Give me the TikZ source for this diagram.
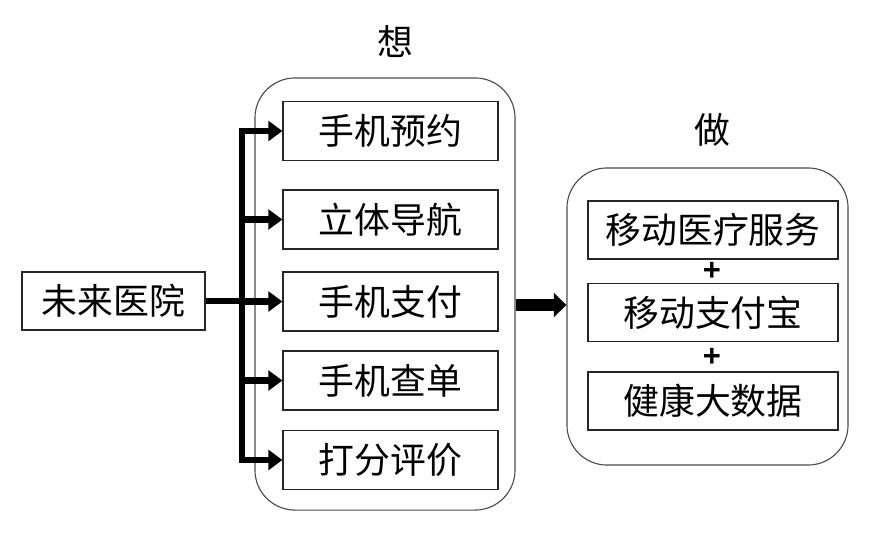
\documentclass[tikz,border=0pt]{standalone}
\usepackage{fontspec}
\newfontfamily\cjk{Noto Sans CJK SC}
\newfontfamily\plusfont{Liberation Sans}
\usepackage{tikz}
\usetikzlibrary{positioning, arrows.meta, calc}

\begin{document}
\begin{tikzpicture}[
    x=0.025cm, y=-0.025cm,
    item/.style={rectangle, draw=black!85, line width=0.8pt, font=\cjk\fontsize{25.5}{29}\selectfont, minimum width=5.375cm, minimum height=1.475cm, inner sep=0pt},
    wide/.style={item, minimum width=6.25cm, minimum height=1.45cm},
    group/.style={rectangle, draw=black!70, line width=0.8pt, rounded corners=1cm},
    title/.style={font=\cjk\fontsize{25.5}{29}\selectfont, inner sep=0pt},
    plus/.style={font=\plusfont\bfseries\fontsize{22}{22}\selectfont, inner sep=0pt},
    trunk/.style={line width=4.3pt, line cap=rect},
    branch/.style={line width=4.3pt, -{Triangle[length=10pt, width=14pt]}},
    big/.style={line width=9pt, -{Triangle[length=9pt, width=17pt]}},
]
\useasboundingbox (0,0) rectangle (878,535);

% groups
\node[group, minimum width=6.5cm, minimum height=10.8cm] (think) at (385,294) {};
\node[group, minimum width=7.025cm, minimum height=7.425cm] (do) at (707.5,316.5) {};
\node[title] (tthink) at (395,42) {想};
\node[title] (tdo) at (712,130) {做};

% left side
\node[item, minimum width=4.575cm, minimum height=1.45cm] (src) at (113.5,301) {未来医院};
\node[item] (b1) at (390.5,131) {手机预约};
\node[item] (b2) at (390.5,219.5) {立体导航};
\node[item] (b3) at (390.5,301.5) {手机支付};
\node[item] (b4) at (390.5,380.5) {手机查单};
\node[item] (b5) at (390.5,460) {打分评价};

% right side
\node[wide] (r1) at (713,230) {移动医疗服务};
\node[plus] (p1) at (712,271) {+};
\node[wide] (r2) at (713,312.5) {移动支付宝};
\node[plus] (p2) at (712,357) {+};
\node[wide] (r3) at (713,401) {健康大数据};

% connectors
\coordinate (bus) at (242,301);
\coordinate (mid) at (540,305);
\draw[trunk] (b1.west -| bus) -- (b5.west -| bus);
\draw[line width=4.3pt] (src.east) -- (bus);
\foreach \b in {b1,b2,b3,b4,b5}
    \draw[branch] (\b.west -| bus) -- (\b.west);
\draw[big] (think.east |- mid) -- (do.west |- mid);
\end{tikzpicture}
\end{document}
